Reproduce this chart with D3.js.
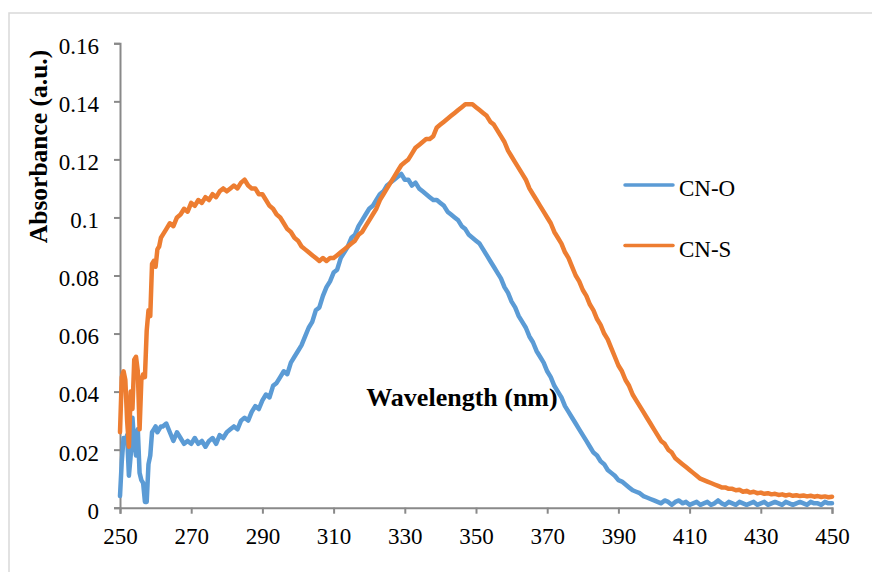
<!DOCTYPE html>
<html>
<head>
<meta charset="utf-8">
<script src="https://cdn.jsdelivr.net/npm/d3@7"></script>
<style>
  html, body { margin: 0; padding: 0; background: #fff; }
  svg { display: block; }
  text { font-family: "Liberation Serif", "Times New Roman", serif; fill: #000; }
</style>
</head>
<body>
<svg id="chart" width="872" height="572"></svg>
<script>
// ---------- DATA ----------
// wavelengths: 0.5 nm steps for 250-261.5, then 1 nm steps 262-450
const wavelengths = d3.range(250, 262, 0.5).concat(d3.range(262, 451, 1));

const cnO = [
  // 250 - 261.5 (0.5 nm)
  0.004, 0.016, 0.024, 0.023, 0.025, 0.011, 0.018, 0.031, 0.022, 0.018, 0.027, 0.012,
  0.0095, 0.0085, 0.002, 0.002, 0.015, 0.018, 0.026, 0.027, 0.028, 0.026, 0.027, 0.028,
  // 262 - 450 (1 nm)
  0.028, 0.029, 0.026, 0.023, 0.026, 0.024, 0.022, 0.023, 0.022, 0.024,
  0.022, 0.023, 0.021, 0.023, 0.024, 0.022, 0.025, 0.024, 0.026, 0.027,
  0.028, 0.027, 0.030, 0.031, 0.030, 0.033, 0.035, 0.034, 0.037, 0.039,
  0.038, 0.042, 0.043, 0.045, 0.047, 0.046, 0.050, 0.052, 0.054, 0.056,
  0.059, 0.062, 0.064, 0.068, 0.069, 0.073, 0.076, 0.078, 0.081, 0.082,
  0.086, 0.088, 0.090, 0.093, 0.094, 0.097, 0.099, 0.101, 0.103, 0.104,
  0.106, 0.108, 0.109, 0.111, 0.112, 0.113, 0.114, 0.115, 0.113, 0.113,
  0.111, 0.112, 0.110, 0.109, 0.108, 0.107, 0.106, 0.106, 0.105, 0.104,
  0.102, 0.101, 0.100, 0.099, 0.097, 0.096, 0.094, 0.093, 0.092, 0.091,
  0.089, 0.087, 0.085, 0.083, 0.081, 0.079, 0.076, 0.074, 0.071, 0.069,
  0.066, 0.064, 0.062, 0.059, 0.057, 0.054, 0.052, 0.050, 0.047, 0.045,
  0.042, 0.040, 0.038, 0.035, 0.033, 0.031, 0.029, 0.027, 0.025, 0.023,
  0.021, 0.019, 0.018, 0.016, 0.015, 0.013, 0.012, 0.011, 0.0095, 0.009,
  0.008, 0.007, 0.006, 0.0055, 0.005, 0.004, 0.0035, 0.003, 0.0025, 0.002,
  0.0015, 0.0025, 0.002, 0.001, 0.002, 0.0025, 0.0015, 0.002, 0.001, 0.0015,
  0.002, 0.001, 0.0015, 0.002, 0.001, 0.0015, 0.0025, 0.0015, 0.001, 0.002,
  0.0015, 0.001, 0.002, 0.0015, 0.001, 0.0015, 0.002, 0.001, 0.0015, 0.002,
  0.001, 0.0015, 0.002, 0.0015, 0.001, 0.002, 0.0015, 0.001, 0.0015, 0.002,
  0.0015, 0.001, 0.002, 0.0015, 0.0015, 0.001, 0.002, 0.0015, 0.0015
];

const cnS = [
  // 250 - 261.5 (0.5 nm)
  0.026, 0.045, 0.047, 0.044, 0.030, 0.021, 0.040, 0.034, 0.051, 0.052, 0.047, 0.027,
  0.044, 0.046, 0.045, 0.061, 0.068, 0.066, 0.084, 0.085, 0.083, 0.089, 0.090, 0.093,
  // 262 - 450 (1 nm)
  0.094, 0.096, 0.098, 0.097, 0.100, 0.101, 0.103, 0.102, 0.105, 0.104,
  0.106, 0.105, 0.107, 0.106, 0.108, 0.107, 0.109, 0.110, 0.109, 0.110,
  0.111, 0.110, 0.112, 0.113, 0.111, 0.110, 0.110, 0.108, 0.108, 0.106,
  0.104, 0.103, 0.101, 0.100, 0.098, 0.096, 0.095, 0.093, 0.092, 0.090,
  0.089, 0.088, 0.087, 0.086, 0.085, 0.086, 0.085, 0.086, 0.086, 0.087,
  0.088, 0.089, 0.090, 0.091, 0.092, 0.094, 0.095, 0.097, 0.099, 0.101,
  0.103, 0.106, 0.108, 0.110, 0.112, 0.114, 0.116, 0.118, 0.119, 0.120,
  0.122, 0.124, 0.125, 0.126, 0.127, 0.127, 0.128, 0.131, 0.132, 0.133,
  0.134, 0.135, 0.136, 0.137, 0.138, 0.139, 0.139, 0.139, 0.138, 0.137,
  0.136, 0.135, 0.133, 0.132, 0.130, 0.128, 0.126, 0.123, 0.121, 0.119,
  0.117, 0.115, 0.113, 0.110, 0.108, 0.106, 0.104, 0.102, 0.100, 0.098,
  0.095, 0.093, 0.091, 0.088, 0.086, 0.083, 0.080, 0.078, 0.075, 0.073,
  0.070, 0.068, 0.065, 0.063, 0.060, 0.058, 0.055, 0.052, 0.049, 0.047,
  0.044, 0.042, 0.039, 0.037, 0.035, 0.033, 0.031, 0.029, 0.027, 0.025,
  0.023, 0.022, 0.020, 0.019, 0.017, 0.016, 0.015, 0.014, 0.013, 0.012,
  0.011, 0.010, 0.0095, 0.009, 0.0085, 0.008, 0.0075, 0.007, 0.007, 0.0065,
  0.0065, 0.006, 0.0062, 0.0055, 0.0058, 0.0052, 0.0055, 0.005, 0.0052, 0.0048,
  0.005, 0.0046, 0.0048, 0.0044, 0.0046, 0.0042, 0.0045, 0.0041, 0.0043, 0.004,
  0.0042, 0.0039, 0.0041, 0.0038, 0.004, 0.0037, 0.0039, 0.0036, 0.0038
];

const xTicks = [250, 270, 290, 310, 330, 350, 370, 390, 410, 430, 450];
const yTicks = [0, 0.02, 0.04, 0.06, 0.08, 0.1, 0.12, 0.14, 0.16];
const yTickLabels = ["0", "0.02", "0.04", "0.06", "0.08", "0.1", "0.12", "0.14", "0.16"];
const seriesNames = ["CN-O", "CN-S"];
const seriesColors = ["#5B9BD5", "#ED7D31"];

// ---------- CHART ----------
const svg = d3.select("#chart");

// outer chart border
svg.append("rect")
  .attr("x", 9).attr("y", 13)
  .attr("width", 880).attr("height", 580)
  .attr("fill", "none").attr("stroke", "#D9D9D9").attr("stroke-width", 1.5);

const x = d3.scaleLinear().domain([250, 450]).range([120, 832]);
const y = d3.scaleLinear().domain([0, 0.16]).range([507.7, 43.3]);

const axisColor = "#898989";

// X axis
const xAxis = svg.append("g")
  .attr("transform", `translate(0,${y(0)})`)
  .call(d3.axisBottom(x).tickValues(xTicks).tickSize(6).tickPadding(14).tickFormat(d3.format("d")));
xAxis.select(".domain").attr("stroke", axisColor).attr("stroke-width", 2);
xAxis.selectAll(".tick line").attr("stroke", axisColor).attr("stroke-width", 2);
xAxis.selectAll(".tick text")
  .attr("font-family", "'Liberation Serif', 'Times New Roman', serif")
  .attr("font-size", 23).attr("fill", "#000");

// Y axis
const yAxis = svg.append("g")
  .attr("transform", `translate(${x(250)},0)`)
  .call(d3.axisLeft(y).tickValues(yTicks).tickSize(6).tickPadding(15)
    .tickFormat((d, i) => yTickLabels[i]));
yAxis.select(".domain").attr("stroke", axisColor).attr("stroke-width", 2);
yAxis.selectAll(".tick line").attr("stroke", axisColor).attr("stroke-width", 2);
yAxis.selectAll(".tick text")
  .attr("font-family", "'Liberation Serif', 'Times New Roman', serif")
  .attr("font-size", 23).attr("fill", "#000")
  .attr("dy", "0.45em");

// Lines
const series = [cnO, cnS];
const line = d3.line()
  .x((d, i) => x(wavelengths[i]))
  .y(d => y(d));

series.forEach((vals, k) => {
  svg.append("path")
    .datum(vals)
    .attr("fill", "none")
    .attr("stroke", seriesColors[k])
    .attr("stroke-width", 4.5)
    .attr("stroke-linejoin", "round")
    .attr("stroke-linecap", "round")
    .attr("d", line);
});

// Axis titles
svg.append("text")
  .attr("x", 462).attr("y", 405.5)
  .attr("text-anchor", "middle")
  .attr("font-weight", "bold").attr("font-size", 26)
  .text("Wavelength (nm)");

svg.append("text")
  .attr("transform", "translate(47,146.5) rotate(-90)")
  .attr("text-anchor", "middle")
  .attr("font-weight", "bold").attr("font-size", 25.5)
  .text("Absorbance (a.u.)");

// Legend
const legendY = [185, 245.5];
seriesNames.forEach((name, k) => {
  svg.append("line")
    .attr("x1", 625).attr("x2", 673)
    .attr("y1", legendY[k]).attr("y2", legendY[k])
    .attr("stroke", seriesColors[k]).attr("stroke-width", 3.5)
    .attr("stroke-linecap", "round");
  svg.append("text")
    .attr("x", 679).attr("y", legendY[k] + 6)
    .attr("font-size", 23)
    .attr("dominant-baseline", "middle")
    .text(name);
});
</script>
</body>
</html>
